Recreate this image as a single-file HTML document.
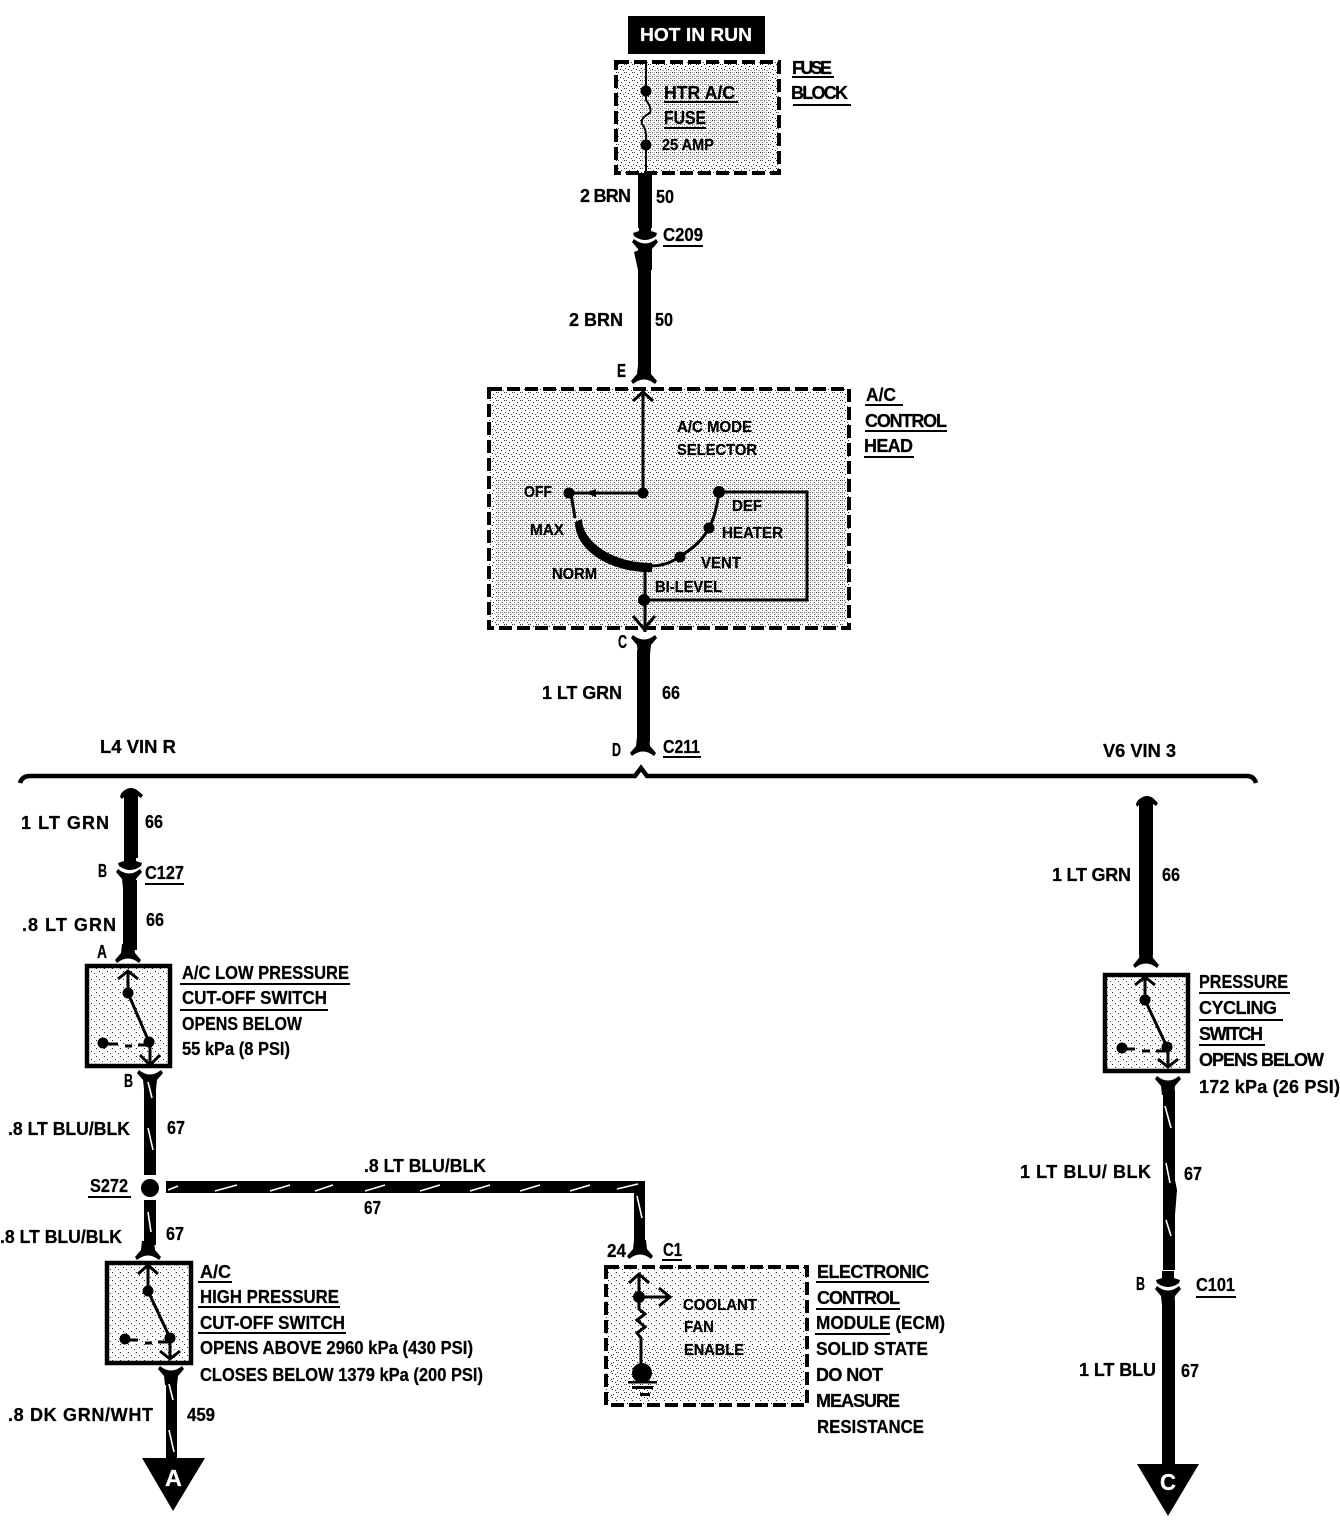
<!DOCTYPE html>
<html><head><meta charset="utf-8"><title>Wiring diagram</title>
<style>
html,body{margin:0;padding:0;background:#fff}
svg{display:block}
text{font-family:"Liberation Sans",sans-serif;font-weight:bold;font-size:18px;fill:#000;stroke:#000;stroke-width:.25}
.s{font-size:16px}
.w{fill:#fff;stroke:#fff}
.u{stroke:#000;stroke-width:2;fill:none}
.t{stroke:#000;stroke-width:3;fill:none}
.wd{stroke:#fff;stroke-width:1.6;fill:none}
.d{fill:none;stroke:#000;stroke-width:4;stroke-dasharray:13 5}
.b{fill:url(#light);stroke:#000;stroke-width:4.5}
</style></head><body>
<svg width="1340" height="1520" viewBox="0 0 1340 1520" xmlns="http://www.w3.org/2000/svg">
<defs>
<pattern id="dots" width="8" height="8" patternUnits="userSpaceOnUse">
<rect width="8" height="8" fill="#fff"/>
<rect x="0" y="0" width="1" height="1" fill="#222"/><rect x="2" y="0" width="1" height="1" fill="#444"/>
<rect x="5" y="2" width="1" height="1" fill="#222"/><rect x="1" y="4" width="1" height="1" fill="#444"/>
<rect x="4" y="5" width="1" height="1" fill="#222"/><rect x="7" y="6" width="1" height="1" fill="#444"/>
</pattern>
<pattern id="dense" width="4" height="4" patternUnits="userSpaceOnUse">
<rect width="4" height="4" fill="#fff"/>
<rect x="0" y="0" width="1" height="1" fill="#222"/><rect x="2" y="2" width="1" height="1" fill="#222"/>
<rect x="2" y="0" width="1" height="1" fill="#666"/>
</pattern>
<pattern id="light" width="8" height="8" patternUnits="userSpaceOnUse">
<rect width="8" height="8" fill="#fff"/>
<rect x="0" y="0" width="1" height="1" fill="#222"/><rect x="3" y="3" width="1" height="1" fill="#222"/><rect x="6" y="5" width="1" height="1" fill="#444"/>
</pattern>
<path id="y" d="M-13,2 L-11,-1 Q0,8 11,-1 L13,2 L7,9 L6,18 L-6,18 L-7,9 Z"/>
<path id="c" d="M-6,-16 H6 V-9 L12,-7 L11,-4 Q0,4 -11,-4 L-12,-7 L-6,-9 Z"/>
</defs>

<!-- HOT IN RUN -->
<rect x="628" y="16" width="137" height="38" fill="#000"/>
<text class="w" x="640" y="41" textLength="112" lengthAdjust="spacingAndGlyphs">HOT IN RUN</text>

<!-- Fuse block -->
<rect x="616" y="62" width="163" height="111" fill="url(#dots)"/>
<rect x="640" y="70" width="130" height="90" fill="url(#dense)" opacity=".55"/>
<rect class="d" x="616" y="62" width="163" height="111"/>
<path class="u" d="M646,62 V100 Q652,108 650,113 Q640,118 642,124 Q647,130 646,140 V173"/>
<circle cx="646" cy="91" r="5.5"/><circle cx="646" cy="145" r="5.5"/>
<text x="664" y="99" textLength="71" lengthAdjust="spacingAndGlyphs">HTR A/C</text>
<line class="u" x1="664" y1="102" x2="738" y2="102"/>
<text x="664" y="124" textLength="42" lengthAdjust="spacingAndGlyphs">FUSE</text>
<line class="u" x1="664" y1="128" x2="706" y2="128"/>
<text class="s" x="662" y="150" textLength="52" lengthAdjust="spacingAndGlyphs">25 AMP</text>
<text x="792" y="74" textLength="40" lengthAdjust="spacing">FUSE</text>
<line class="u" x1="792" y1="77" x2="834" y2="77"/>
<text x="791" y="99" textLength="57" lengthAdjust="spacing">BLOCK</text>
<line class="u" x1="793" y1="105" x2="851" y2="105"/>

<!-- upper wire -->
<rect x="638" y="173" width="14" height="55"/>
<use href="#c" transform="translate(645,240)"/>
<use href="#y" transform="translate(645,240)"/>
<path d="M634,252 L639,250 L652,250 L652,270 L638,270 Z"/>
<rect x="638" y="255" width="13" height="122"/>
<text x="580" y="202" textLength="51" lengthAdjust="spacing">2 BRN</text>
<text x="656" y="203" textLength="18" lengthAdjust="spacingAndGlyphs">50</text>
<text x="663" y="241" textLength="40" lengthAdjust="spacingAndGlyphs">C209</text>
<line class="u" x1="663" y1="246" x2="703" y2="246" stroke-width="3"/>
<text x="569" y="326" textLength="54" lengthAdjust="spacing">2 BRN</text>
<text x="655" y="326" textLength="18" lengthAdjust="spacingAndGlyphs">50</text>
<text x="617" y="377" textLength="9" lengthAdjust="spacingAndGlyphs">E</text>
<use href="#y" transform="translate(644,383) scale(1,-1)"/>

<!-- A/C control head -->
<rect x="489" y="389" width="360" height="239" fill="url(#dots)"/>
<rect x="495" y="480" width="350" height="142" fill="url(#dense)" opacity=".6"/>
<rect class="d" x="489" y="389" width="360" height="239"/>
<line class="t" x1="643" y1="393" x2="643" y2="493"/>
<path class="t" d="M633,401 L643,392 L653,401"/>
<circle cx="643" cy="493" r="5.5"/>
<line class="t" x1="643" y1="493" x2="569" y2="493"/>
<path d="M596,489 L585,493 L596,497 Z"/>
<circle cx="569" cy="493" r="5.5"/>
<path class="t" d="M571,494 L575,518"/>
<path d="M582,519 C582,540 610,563 652,563 L652,572 C610,573 575,550 575,522 Z"/>
<path class="t" d="M650,566 Q668,566 680,556 Q700,545 709,528 Q716,515 719,492"/>
<circle cx="680" cy="557" r="5.5"/><circle cx="709" cy="528" r="5.5"/><circle cx="719" cy="492" r="6"/>
<path class="t" d="M719,492 H807 V600 H643"/>
<line class="t" x1="645" y1="568" x2="645" y2="632"/>
<circle cx="644" cy="600" r="6"/>
<path class="t" d="M633,616 L644,629 L655,616"/>
<text class="s" x="677" y="432" textLength="75" lengthAdjust="spacingAndGlyphs">A/C MODE</text>
<text class="s" x="677" y="455" textLength="80" lengthAdjust="spacingAndGlyphs">SELECTOR</text>
<text class="s" x="524" y="497" textLength="28" lengthAdjust="spacingAndGlyphs">OFF</text>
<text class="s" x="530" y="535" textLength="34" lengthAdjust="spacingAndGlyphs">MAX</text>
<text class="s" x="552" y="579" textLength="45" lengthAdjust="spacingAndGlyphs">NORM</text>
<text class="s" x="732" y="511" textLength="30" lengthAdjust="spacingAndGlyphs">DEF</text>
<text class="s" x="722" y="538" textLength="61" lengthAdjust="spacingAndGlyphs">HEATER</text>
<text class="s" x="701" y="568" textLength="40" lengthAdjust="spacingAndGlyphs">VENT</text>
<text class="s" x="655" y="592" textLength="67" lengthAdjust="spacingAndGlyphs">BI-LEVEL</text>
<text x="866" y="401" textLength="30" lengthAdjust="spacingAndGlyphs">A/C</text>
<line class="u" x1="865" y1="405" x2="903" y2="405"/>
<text x="865" y="427" textLength="82" lengthAdjust="spacing">CONTROL</text>
<line class="u" x1="865" y1="431" x2="947" y2="431"/>
<text x="864" y="452" textLength="49" lengthAdjust="spacing">HEAD</text>
<line class="u" x1="864" y1="457" x2="914" y2="457"/>

<!-- mid wire -->
<text x="618" y="648" textLength="9" lengthAdjust="spacingAndGlyphs">C</text>
<use href="#y" transform="translate(644,636)"/>
<rect x="637" y="650" width="13" height="92"/>
<use href="#y" transform="translate(643,755) scale(1,-1)"/>
<text x="542" y="699" textLength="80" lengthAdjust="spacing">1 LT GRN</text>
<text x="662" y="699" textLength="18" lengthAdjust="spacingAndGlyphs">66</text>
<text x="612" y="756" textLength="9" lengthAdjust="spacingAndGlyphs">D</text>
<text x="663" y="753" textLength="37" lengthAdjust="spacingAndGlyphs">C211</text>
<line class="u" x1="663" y1="757" x2="701" y2="757"/>
<path d="M20,783 Q22,776 30,776 H635 L641,768 L647,776 H1247 Q1254,776 1256,783" fill="none" stroke="#000" stroke-width="4.5"/>
<text x="100" y="753" textLength="76" lengthAdjust="spacingAndGlyphs">L4 VIN R</text>
<text x="1103" y="757" textLength="73" lengthAdjust="spacingAndGlyphs">V6 VIN 3</text>

<!-- left branch -->
<path d="M120,797 Q121,792 125,790 Q131,786 137,790 L143,795 L141,798 L138,796 V858 H124 V797 L122,799 Z"/>
<use href="#c" transform="translate(130,870)"/>
<use href="#y" transform="translate(129,870)"/>
<rect x="123" y="880" width="14" height="70"/>
<use href="#y" transform="translate(128,962) scale(1,-1)"/>
<text x="21" y="829" textLength="88" lengthAdjust="spacing">1 LT GRN</text>
<text x="145" y="828" textLength="18" lengthAdjust="spacingAndGlyphs">66</text>
<text x="98" y="877" textLength="9" lengthAdjust="spacingAndGlyphs">B</text>
<text x="145" y="879" textLength="39" lengthAdjust="spacingAndGlyphs">C127</text>
<line class="u" x1="145" y1="884" x2="184" y2="884"/>
<text x="22" y="931" textLength="94" lengthAdjust="spacing">.8 LT GRN</text>
<text x="146" y="926" textLength="18" lengthAdjust="spacingAndGlyphs">66</text>
<text x="97" y="958" textLength="10" lengthAdjust="spacingAndGlyphs">A</text>

<rect class="b" x="87" y="966" width="83" height="100"/>
<line class="t" x1="128" y1="972" x2="128" y2="993"/>
<path class="t" d="M118,979 L128,971 L138,979"/>
<circle cx="128" cy="993" r="5.5"/>
<line class="t" x1="128" y1="993" x2="149" y2="1042"/>
<circle cx="149" cy="1042" r="5.5"/>
<circle cx="103" cy="1043" r="5.5"/>
<path class="t" d="M103,1044 H118 M125,1046 H132 M138,1045 H149"/>
<line class="t" x1="150" y1="1042" x2="150" y2="1065"/>
<path class="t" d="M140,1055 L150,1065 L160,1055"/>
<text x="182" y="979" textLength="167" lengthAdjust="spacingAndGlyphs">A/C LOW PRESSURE</text>
<line class="u" x1="180" y1="984" x2="350" y2="984"/>
<text x="182" y="1004" textLength="145" lengthAdjust="spacingAndGlyphs">CUT-OFF SWITCH</text>
<line class="u" x1="180" y1="1010" x2="328" y2="1010"/>
<text x="182" y="1030" textLength="120" lengthAdjust="spacingAndGlyphs">OPENS BELOW</text>
<text x="182" y="1055" textLength="108" lengthAdjust="spacingAndGlyphs">55 kPa (8 PSI)</text>

<use href="#y" transform="translate(150,1071)"/>
<rect x="144" y="1085" width="12" height="90"/>
<path class="wd" d="M148,1082 L152,1098 M148,1128 L153,1150"/>
<text x="124" y="1087" textLength="9" lengthAdjust="spacingAndGlyphs">B</text>
<text x="8" y="1135" textLength="122" lengthAdjust="spacingAndGlyphs">.8 LT BLU/BLK</text>
<text x="167" y="1134" textLength="18" lengthAdjust="spacingAndGlyphs">67</text>
<circle cx="150" cy="1188" r="9"/>
<text x="90" y="1192" textLength="38" lengthAdjust="spacingAndGlyphs">S272</text>
<line class="u" x1="88" y1="1197" x2="131" y2="1197"/>
<rect x="144" y="1200" width="12" height="45"/>
<use href="#y" transform="translate(148,1259) scale(1,-1)"/>
<path class="wd" d="M148,1212 L151,1232"/>
<text x="0" y="1243" textLength="122" lengthAdjust="spacingAndGlyphs">.8 LT BLU/BLK</text>
<text x="166" y="1240" textLength="18" lengthAdjust="spacingAndGlyphs">67</text>

<!-- horizontal to ECM -->
<path d="M166,1181 H645 V1245 H634 V1193 H166 Z"/>
<path class="wd" d="M168,1190 L178,1186 M215,1191 L237,1185 M270,1191 L290,1185 M315,1191 L333,1185 M365,1191 L385,1185 M420,1191 L440,1185 M470,1191 L490,1185 M520,1191 L540,1185 M570,1191 L590,1185 M617,1189 L638,1184 M637,1196 L642,1218"/>
<text x="364" y="1172" textLength="122" lengthAdjust="spacingAndGlyphs">.8 LT BLU/BLK</text>
<text x="364" y="1214" textLength="17" lengthAdjust="spacingAndGlyphs">67</text>
<use href="#y" transform="translate(640,1258) scale(1,-1)"/>
<text x="607" y="1257" textLength="19" lengthAdjust="spacingAndGlyphs">24</text>
<text x="663" y="1256" textLength="19" lengthAdjust="spacingAndGlyphs">C1</text>
<line class="u" x1="662" y1="1260" x2="682" y2="1260" stroke-width="3"/>

<!-- ECM -->
<rect x="606" y="1267" width="201" height="138" fill="url(#light)"/>
<rect x="612" y="1345" width="190" height="55" fill="url(#dots)"/>
<rect class="d" x="606" y="1267" width="201" height="138"/>
<line class="t" x1="639" y1="1275" x2="639" y2="1297"/>
<path class="t" d="M629,1283 L639,1274 L649,1283"/>
<circle cx="639" cy="1297" r="6"/>
<line class="t" x1="639" y1="1297" x2="668" y2="1297"/>
<path class="t" d="M659,1288 L670,1297 L659,1306"/>
<path class="t" d="M639,1297 V1309 L645,1314 L637,1320 L645,1327 L637,1333 L641,1338 V1365"/>
<circle cx="642" cy="1373" r="10"/>
<path d="M628,1381 h29 v2.5 h-29 Z M632,1386 h21 v3 h-21 Z M640,1393 h10 v3 h-10 Z"/>
<text class="s" x="683" y="1310" textLength="74" lengthAdjust="spacingAndGlyphs">COOLANT</text>
<text class="s" x="684" y="1332" textLength="30" lengthAdjust="spacingAndGlyphs">FAN</text>
<text class="s" x="684" y="1355" textLength="60" lengthAdjust="spacingAndGlyphs">ENABLE</text>
<text x="817" y="1278" textLength="112" lengthAdjust="spacing">ELECTRONIC</text>
<line class="u" x1="816" y1="1282" x2="929" y2="1282"/>
<text x="817" y="1304" textLength="83" lengthAdjust="spacing">CONTROL</text>
<line class="u" x1="816" y1="1309" x2="900" y2="1309"/>
<text x="816" y="1329" textLength="129" lengthAdjust="spacingAndGlyphs">MODULE (ECM)</text>
<line class="u" x1="815" y1="1334" x2="890" y2="1334"/>
<text x="816" y="1355" textLength="112" lengthAdjust="spacingAndGlyphs">SOLID STATE</text>
<text x="816" y="1381" textLength="67" lengthAdjust="spacing">DO NOT</text>
<text x="816" y="1407" textLength="84" lengthAdjust="spacing">MEASURE</text>
<text x="817" y="1433" textLength="107" lengthAdjust="spacingAndGlyphs">RESISTANCE</text>

<!-- high pressure switch -->
<rect class="b" x="107" y="1263" width="84" height="100"/>
<line class="t" x1="148" y1="1265" x2="148" y2="1291"/>
<path class="t" d="M138,1274 L148,1265 L158,1274"/>
<circle cx="148" cy="1291" r="5.5"/>
<line class="t" x1="148" y1="1291" x2="170" y2="1338"/>
<circle cx="170" cy="1338" r="5.5"/>
<circle cx="125" cy="1339" r="5.5"/>
<path class="t" d="M125,1340 H138 M145,1343 H152 M158,1342 H170"/>
<line class="t" x1="170" y1="1338" x2="170" y2="1358"/>
<path class="t" d="M160,1351 L170,1359 L180,1351"/>
<text x="200" y="1278" textLength="31" lengthAdjust="spacingAndGlyphs">A/C</text>
<line class="u" x1="198" y1="1282" x2="232" y2="1282"/>
<text x="200" y="1303" textLength="139" lengthAdjust="spacingAndGlyphs">HIGH PRESSURE</text>
<line class="u" x1="198" y1="1307" x2="340" y2="1307"/>
<text x="200" y="1329" textLength="145" lengthAdjust="spacingAndGlyphs">CUT-OFF SWITCH</text>
<line class="u" x1="198" y1="1333" x2="346" y2="1333"/>
<text x="200" y="1354" textLength="273" lengthAdjust="spacingAndGlyphs">OPENS ABOVE 2960 kPa (430 PSI)</text>
<text x="200" y="1381" textLength="283" lengthAdjust="spacingAndGlyphs">CLOSES BELOW 1379 kPa (200 PSI)</text>
<use href="#y" transform="translate(171,1367)"/>
<rect x="166" y="1380" width="11" height="80"/>
<path class="wd" d="M169,1384 L173,1400 M169,1430 L174,1452"/>
<path d="M142,1458 H205 L173,1511 Z"/>
<text class="w" x="165" y="1486" style="font-size:23px" textLength="17" lengthAdjust="spacingAndGlyphs">A</text>
<text x="8" y="1421" textLength="145" lengthAdjust="spacing">.8 DK GRN/WHT</text>
<text x="187" y="1421" textLength="28" lengthAdjust="spacingAndGlyphs">459</text>

<!-- right branch -->
<path d="M1136,804 Q1137,800 1141,798 Q1147,794 1153,798 L1158,803 L1156,806 L1153,804 V955 H1139 V805 L1137,807 Z"/>
<use href="#y" transform="translate(1146,967) scale(1,-1)"/>
<text x="1052" y="881" textLength="79" lengthAdjust="spacing">1 LT GRN</text>
<text x="1162" y="881" textLength="18" lengthAdjust="spacingAndGlyphs">66</text>
<rect class="b" x="1105" y="975" width="83" height="96"/>
<line class="t" x1="1145" y1="978" x2="1145" y2="1000"/>
<path class="t" d="M1135,985 L1145,977 L1155,985"/>
<circle cx="1145" cy="1000" r="5.5"/>
<line class="t" x1="1145" y1="1000" x2="1167" y2="1047"/>
<circle cx="1167" cy="1047" r="5.5"/>
<circle cx="1122" cy="1048" r="5.5"/>
<path class="t" d="M1122,1049 H1135 M1142,1051 H1150 M1156,1051 H1167"/>
<line class="t" x1="1168" y1="1047" x2="1168" y2="1067"/>
<path class="t" d="M1158,1059 L1168,1067 L1178,1059"/>
<text x="1199" y="988" textLength="89" lengthAdjust="spacingAndGlyphs">PRESSURE</text>
<line class="u" x1="1199" y1="993" x2="1290" y2="993"/>
<text x="1199" y="1014" textLength="78" lengthAdjust="spacing">CYCLING</text>
<line class="u" x1="1199" y1="1020" x2="1283" y2="1020"/>
<text x="1199" y="1040" textLength="64" lengthAdjust="spacing">SWITCH</text>
<line class="u" x1="1199" y1="1045" x2="1265" y2="1045"/>
<text x="1199" y="1066" textLength="125" lengthAdjust="spacing">OPENS BELOW</text>
<text x="1199" y="1093" textLength="141" lengthAdjust="spacing">172 kPa (26 PSI)</text>
<use href="#y" transform="translate(1168,1077)"/>
<path d="M1163,1090 H1175 V1180 L1177,1190 L1175,1215 V1270 H1163 Z"/>
<path class="wd" d="M1165,1106 L1171,1128 M1166,1163 L1170,1183 M1166,1220 L1171,1236"/>
<use href="#c" transform="translate(1168,1287)"/>
<use href="#y" transform="translate(1168,1287)"/>
<rect x="1162" y="1300" width="13" height="166"/>
<path d="M1137,1464 H1199 L1168,1516 Z"/>
<text class="w" x="1160" y="1490" style="font-size:23px" textLength="16" lengthAdjust="spacingAndGlyphs">C</text>
<text x="1020" y="1178" textLength="131" lengthAdjust="spacing">1 LT BLU/ BLK</text>
<text x="1184" y="1180" textLength="18" lengthAdjust="spacingAndGlyphs">67</text>
<text x="1136" y="1290" textLength="9" lengthAdjust="spacingAndGlyphs">B</text>
<text x="1196" y="1291" textLength="39" lengthAdjust="spacingAndGlyphs">C101</text>
<line class="u" x1="1196" y1="1297" x2="1236" y2="1297"/>
<text x="1079" y="1376" textLength="77" lengthAdjust="spacing">1 LT BLU</text>
<text x="1181" y="1377" textLength="18" lengthAdjust="spacingAndGlyphs">67</text>
</svg>
</body></html>
